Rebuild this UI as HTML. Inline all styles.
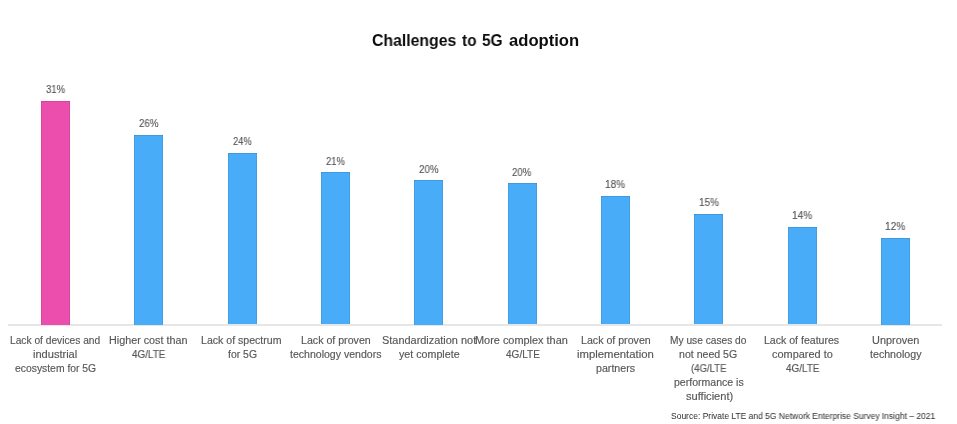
<!DOCTYPE html>
<html><head><meta charset="utf-8"><style>
html,body{margin:0;padding:0;background:#fff;}
body{width:957px;height:424px;position:relative;overflow:hidden;font-family:"Liberation Sans",sans-serif;}
.b{position:absolute;}
.s{position:absolute;white-space:nowrap;transform-origin:0 0;will-change:transform;}
.t{position:absolute;white-space:nowrap;transform:translateX(-50%);}
.lab{font-size:10.00px;line-height:14.20px;color:#575757;-webkit-text-stroke:0.15px #575757;}
.pct{font-size:10.3px;line-height:12px;color:#505050;-webkit-text-stroke:0.1px #505050;}
.bar{position:absolute;box-shadow:inset 0 1px 0 rgba(0,0,0,0.10),inset 1px 0 0 rgba(0,0,0,0.08),inset -1px 0 0 rgba(0,0,0,0.08);}
</style></head><body>
<div class="s" style="left:371.73px;top:30.15px;transform:scaleX(0.9706);font-weight:bold;font-size:16.3px;line-height:20px;color:#0d0d0d;">Challenges</div>
<div class="s" style="left:461.50px;top:30.15px;transform:scaleX(0.9467);font-weight:bold;font-size:16.3px;line-height:20px;color:#0d0d0d;">to</div>
<div class="s" style="left:482.10px;top:30.15px;transform:scaleX(0.9476);font-weight:bold;font-size:16.3px;line-height:20px;color:#0d0d0d;">5G</div>
<div class="s" style="left:508.90px;top:30.15px;transform:scaleX(1.0206);font-weight:bold;font-size:16.3px;line-height:20px;color:#0d0d0d;">adoption</div>
<div class="b" style="left:8px;top:324px;width:934px;height:2px;background:#e6e6e6;"></div>
<div class="bar" style="left:40.60px;top:101.00px;width:29.00px;height:223.50px;background:#EB4EAD;"></div>
<div class="s pct" style="left:45.60px;top:83.93px;transform:scaleX(0.9238);">31%</div>
<div class="s lab" style="left:9.98px;top:333.63px;transform:scaleX(1.0207);">Lack of devices and</div>
<div class="s lab" style="left:32.79px;top:347.83px;transform:scaleX(1.1051);">industrial</div>
<div class="s lab" style="left:15.30px;top:362.03px;transform:scaleX(1.0359);">ecosystem for 5G</div>
<div class="bar" style="left:134.35px;top:135.00px;width:29.00px;height:189.50px;background:#49ACF8;"></div>
<div class="s pct" style="left:139.10px;top:117.93px;transform:scaleX(0.9429);">26%</div>
<div class="s lab" style="left:109.22px;top:333.63px;transform:scaleX(1.0775);">Higher cost than</div>
<div class="s lab" style="left:132.00px;top:347.83px;transform:scaleX(0.9879);">4G/LTE</div>
<div class="bar" style="left:227.65px;top:152.80px;width:29.00px;height:171.70px;background:#49ACF8;"></div>
<div class="s pct" style="left:232.50px;top:135.93px;transform:scaleX(0.9048);">24%</div>
<div class="s lab" style="left:201.44px;top:333.63px;transform:scaleX(1.0573);">Lack of spectrum</div>
<div class="s lab" style="left:227.80px;top:347.83px;transform:scaleX(1.0444);">for 5G</div>
<div class="bar" style="left:320.80px;top:172.10px;width:29.00px;height:152.40px;background:#49ACF8;"></div>
<div class="s pct" style="left:325.90px;top:155.93px;transform:scaleX(0.9143);">21%</div>
<div class="s lab" style="left:300.64px;top:333.63px;transform:scaleX(1.0625);">Lack of proven</div>
<div class="s lab" style="left:289.70px;top:347.83px;transform:scaleX(1.0540);">technology vendors</div>
<div class="bar" style="left:414.05px;top:180.00px;width:29.00px;height:144.50px;background:#49ACF8;"></div>
<div class="s pct" style="left:418.90px;top:163.93px;transform:scaleX(0.9476);">20%</div>
<div class="s lab" style="left:381.51px;top:333.63px;transform:scaleX(1.0929);">Standardization not</div>
<div class="s lab" style="left:398.60px;top:347.83px;transform:scaleX(1.0684);">yet complete</div>
<div class="bar" style="left:507.55px;top:183.30px;width:29.00px;height:141.20px;background:#49ACF8;"></div>
<div class="s pct" style="left:512.30px;top:166.93px;transform:scaleX(0.9286);">20%</div>
<div class="s lab" style="left:475.11px;top:333.63px;transform:scaleX(1.0917);">More complex than</div>
<div class="s lab" style="left:505.60px;top:347.83px;transform:scaleX(1.0030);">4G/LTE</div>
<div class="bar" style="left:600.90px;top:196.20px;width:29.00px;height:128.30px;background:#49ACF8;"></div>
<div class="s pct" style="left:605.23px;top:178.93px;transform:scaleX(0.9700);">18%</div>
<div class="s lab" style="left:580.64px;top:333.63px;transform:scaleX(1.0625);">Lack of proven</div>
<div class="s lab" style="left:577.07px;top:347.83px;transform:scaleX(1.1318);">implementation</div>
<div class="s lab" style="left:596.00px;top:362.03px;transform:scaleX(1.0649);">partners</div>
<div class="bar" style="left:694.15px;top:214.10px;width:29.00px;height:110.40px;background:#49ACF8;"></div>
<div class="s pct" style="left:698.53px;top:196.93px;transform:scaleX(0.9650);">15%</div>
<div class="s lab" style="left:669.88px;top:333.63px;transform:scaleX(1.0189);">My use cases do</div>
<div class="s lab" style="left:679.24px;top:347.83px;transform:scaleX(1.0574);">not need 5G</div>
<div class="s lab" style="left:690.60px;top:362.03px;transform:scaleX(0.9541);">(4G/LTE</div>
<div class="s lab" style="left:674.10px;top:376.23px;transform:scaleX(1.0530);">performance is</div>
<div class="s lab" style="left:685.60px;top:390.44px;transform:scaleX(1.1071);">sufficient)</div>
<div class="bar" style="left:787.65px;top:226.90px;width:29.00px;height:97.60px;background:#49ACF8;"></div>
<div class="s pct" style="left:791.62px;top:209.93px;transform:scaleX(0.9750);">14%</div>
<div class="s lab" style="left:764.44px;top:333.63px;transform:scaleX(1.0557);">Lack of features</div>
<div class="s lab" style="left:772.40px;top:347.83px;transform:scaleX(1.0927);">compared to</div>
<div class="s lab" style="left:786.00px;top:362.03px;transform:scaleX(0.9909);">4G/LTE</div>
<div class="bar" style="left:880.90px;top:238.00px;width:29.00px;height:86.50px;background:#49ACF8;"></div>
<div class="s pct" style="left:885.22px;top:220.93px;transform:scaleX(0.9800);">12%</div>
<div class="s lab" style="left:871.71px;top:333.63px;transform:scaleX(1.0905);">Unproven</div>
<div class="s lab" style="left:870.10px;top:347.83px;transform:scaleX(1.0646);">technology</div>
<div class="s" style="left:670.70px;top:411.05px;transform:scaleX(0.9973);font-size:8.5px;line-height:10px;color:#2a2a2a;">Source: Private LTE and 5G Network Enterprise Survey Insight – 2021</div>
</body></html>
